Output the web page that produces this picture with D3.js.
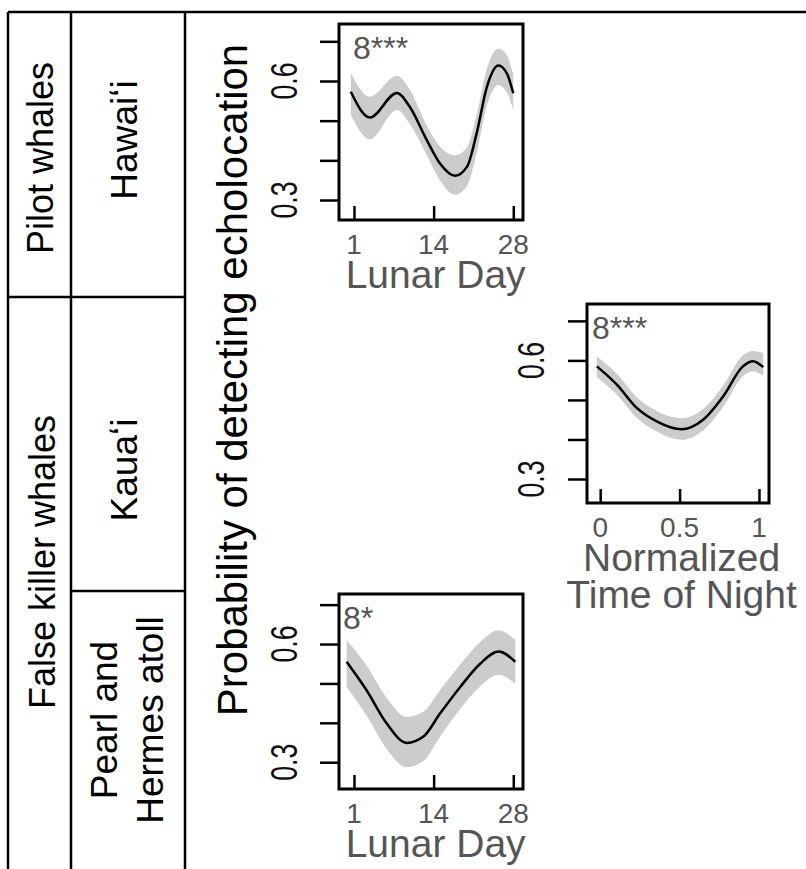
<!DOCTYPE html>
<html>
<head>
<meta charset="utf-8">
<script src="https://cdn.jsdelivr.net/npm/d3@7"></script>
<style>
  body { margin: 0; background: #fff; }
  svg { display: block; }
  text { font-family: "Liberation Sans", Arial, sans-serif; }
</style>
</head>
<body>
<svg id="chart"></svg>
<script>
// tick values and labels
const lunarTicks = [0, 0.5, 1];
const lunarTickLabels = ["1", "14", "28"];
const nightTicks = [0, 0.5, 1];
const nightTickLabels = ["0", "0.5", "1"];
const probTicks = [0.3, 0.4, 0.5, 0.6, 0.7];
const probTickLabels = ["0.3", "", "", "0.6", ""];

// pilot whales, Hawai'i (lunar cycle, 0 = day 1, 1 = day 28)
const hawaiiX     = [-0.02, 0.10, 0.27, 0.35, 0.457, 0.54, 0.635, 0.71, 0.77, 0.835, 0.907, 0.96, 1.0];
const hawaiiMean  = [0.573, 0.508, 0.570, 0.535, 0.451, 0.392, 0.361, 0.384, 0.468, 0.586, 0.639, 0.619, 0.569];
const hawaiiLower = [0.514, 0.453, 0.527, 0.492, 0.413, 0.350, 0.313, 0.336, 0.418, 0.540, 0.590, 0.571, 0.527];
const hawaiiUpper = [0.620, 0.560, 0.613, 0.578, 0.488, 0.435, 0.413, 0.433, 0.515, 0.632, 0.682, 0.664, 0.615];

// false killer whales, Kaua'i (normalized time of night)
const kauaiX     = [-0.021, 0.105, 0.23, 0.356, 0.512, 0.648, 0.774, 0.899, 0.962, 1.027];
const kauaiMean  = [0.585, 0.539, 0.480, 0.446, 0.426, 0.450, 0.509, 0.585, 0.598, 0.583];
const kauaiLower = [0.558, 0.513, 0.455, 0.420, 0.399, 0.423, 0.482, 0.560, 0.572, 0.561];
const kauaiUpper = [0.610, 0.566, 0.507, 0.472, 0.454, 0.477, 0.536, 0.613, 0.624, 0.619];

// false killer whales, Pearl and Hermes atoll (lunar cycle)
const phaX     = [-0.046, 0.08, 0.206, 0.331, 0.436, 0.541, 0.667, 0.792, 0.908, 1.013];
const phaMean  = [0.555, 0.482, 0.398, 0.349, 0.365, 0.424, 0.491, 0.550, 0.581, 0.555];
const phaLower = [0.491, 0.418, 0.333, 0.287, 0.303, 0.365, 0.435, 0.492, 0.522, 0.499];
const phaUpper = [0.610, 0.545, 0.463, 0.415, 0.428, 0.483, 0.548, 0.605, 0.635, 0.610];

const width = 806;
const height = 869;

const svg = d3.select("#chart")
    .attr("width", width)
    .attr("height", height)
    .attr("viewBox", [0, 0, width, height]);

svg.append("rect").attr("width", width).attr("height", height).attr("fill", "#fff");

// left hand table
const tableLines = [
    [8, 12, width, 12],
    [8, 12, 8, height],
    [71, 12, 71, height],
    [185, 12, 185, height],
    [8, 297, 185, 297],
    [71, 591, 185, 591]
];
svg.append("g")
    .attr("stroke", "#000")
    .attr("stroke-width", 2.5)
    .selectAll("line")
    .data(tableLines)
    .join("line")
    .attr("x1", d => d[0]).attr("y1", d => d[1])
    .attr("x2", d => d[2]).attr("y2", d => d[3]);

const vText = (x, y, str, size, color = "#000") =>
    svg.append("text")
        .attr("transform", `translate(${x},${y}) rotate(-90)`)
        .attr("text-anchor", "middle")
        .attr("font-size", size)
        .attr("fill", color)
        .text(str);

vText(53, 158, "Pilot whales", 36);
vText(55, 562, "False killer whales", 36);
vText(137, 140, "Hawai\u02BBi", 37);
vText(137, 470, "Kaua\u02BBi", 37);
vText(117, 720, "Pearl and", 37);
vText(163, 720, "Hermes atoll", 37);
vText(247, 380, "Probability of detecting echolocation", 42);

const zip = (xs, m, lo, hi) => xs.map((x, i) => ({ x, mean: m[i], lo: lo[i], hi: hi[i] }));

const panels = [
    { left: 339, top: 24, w: 184, h: 196, xDomain: [-0.094, 1.061], yDomain: [0.2496, 0.7437],
      data: zip(hawaiiX, hawaiiMean, hawaiiLower, hawaiiUpper),
      xTicks: lunarTicks, xLabels: lunarTickLabels, title: ["Lunar Day"], note: "8***", noteDx: 14, labDx: 42 },
    { left: 587, top: 304, w: 182, h: 199, xDomain: [-0.083, 1.063], yDomain: [0.2393, 0.7427],
      data: zip(kauaiX, kauaiMean, kauaiLower, kauaiUpper),
      xTicks: nightTicks, xLabels: nightTickLabels, title: ["Normalized", "Time of Night"], note: "8***", noteDx: 5, labDx: 43 },
    { left: 339, top: 594, w: 184, h: 195, xDomain: [-0.094, 1.061], yDomain: [0.232, 0.727],
      data: zip(phaX, phaMean, phaLower, phaUpper),
      xTicks: lunarTicks, xLabels: lunarTickLabels, title: ["Lunar Day"], note: "8*", noteDx: 4, labDx: 42 }
];

panels.forEach(p => {
    const x = d3.scaleLinear().domain(p.xDomain).range([p.left, p.left + p.w]);
    const y = d3.scaleLinear().domain(p.yDomain).range([p.top + p.h, p.top]);
    const g = svg.append("g");

    g.append("path")
        .datum(p.data)
        .attr("fill", "#cccccc")
        .attr("d", d3.area()
            .x(d => x(d.x))
            .y0(d => y(d.lo))
            .y1(d => y(d.hi))
            .curve(d3.curveMonotoneX));

    g.append("path")
        .datum(p.data)
        .attr("fill", "none")
        .attr("stroke", "#000")
        .attr("stroke-width", 2.5)
        .attr("d", d3.line()
            .x(d => x(d.x))
            .y(d => y(d.mean))
            .curve(d3.curveMonotoneX));

    // y axis: outward ticks, rotated (narrow) labels
    g.append("g")
        .attr("transform", `translate(${p.left},0)`)
        .call(d3.axisLeft(y).tickValues(probTicks).tickSize(19).tickFormat(""))
        .call(a => a.select(".domain").remove())
        .call(a => a.selectAll("line").attr("stroke-width", 2.5));

    g.selectAll(".ylab")
        .data(probTicks.filter((t, i) => probTickLabels[i]))
        .join("text")
        .attr("transform", t => `translate(${p.left - p.labDx},${y(t)}) rotate(-90) scale(0.72,1)`)
        .attr("text-anchor", "middle")
        .attr("font-size", 37)
        .attr("fill", "#111")
        .text(t => probTickLabels[probTicks.indexOf(t)]);

    // x axis: ticks point into the box
    g.append("g")
        .attr("transform", `translate(0,${p.top + p.h})`)
        .call(d3.axisBottom(x).tickValues(p.xTicks).tickSize(-14).tickFormat(""))
        .call(a => a.select(".domain").remove())
        .call(a => a.selectAll("line").attr("stroke-width", 2.5));

    g.selectAll(".xlab")
        .data(p.xTicks)
        .join("text")
        .attr("x", d => x(d))
        .attr("y", p.top + p.h + 34)
        .attr("text-anchor", "middle")
        .attr("font-size", 28)
        .attr("fill", "#555")
        .text((d, i) => p.xLabels[i]);

    g.selectAll(".xtitle")
        .data(p.title)
        .join("text")
        .attr("x", x(0.5) + 2)
        .attr("y", (d, i) => p.top + p.h + 68 + i * 37)
        .attr("text-anchor", "middle")
        .attr("font-size", 39)
        .attr("fill", "#555")
        .text(d => d);

    g.append("rect")
        .attr("x", p.left).attr("y", p.top)
        .attr("width", p.w).attr("height", p.h)
        .attr("fill", "none")
        .attr("stroke", "#000")
        .attr("stroke-width", 3);

    g.append("text")
        .attr("x", p.left + p.noteDx)
        .attr("y", p.top + 35)
        .attr("font-size", 32)
        .attr("fill", "#555")
        .text(p.note);
});
</script>
</body>
</html>
